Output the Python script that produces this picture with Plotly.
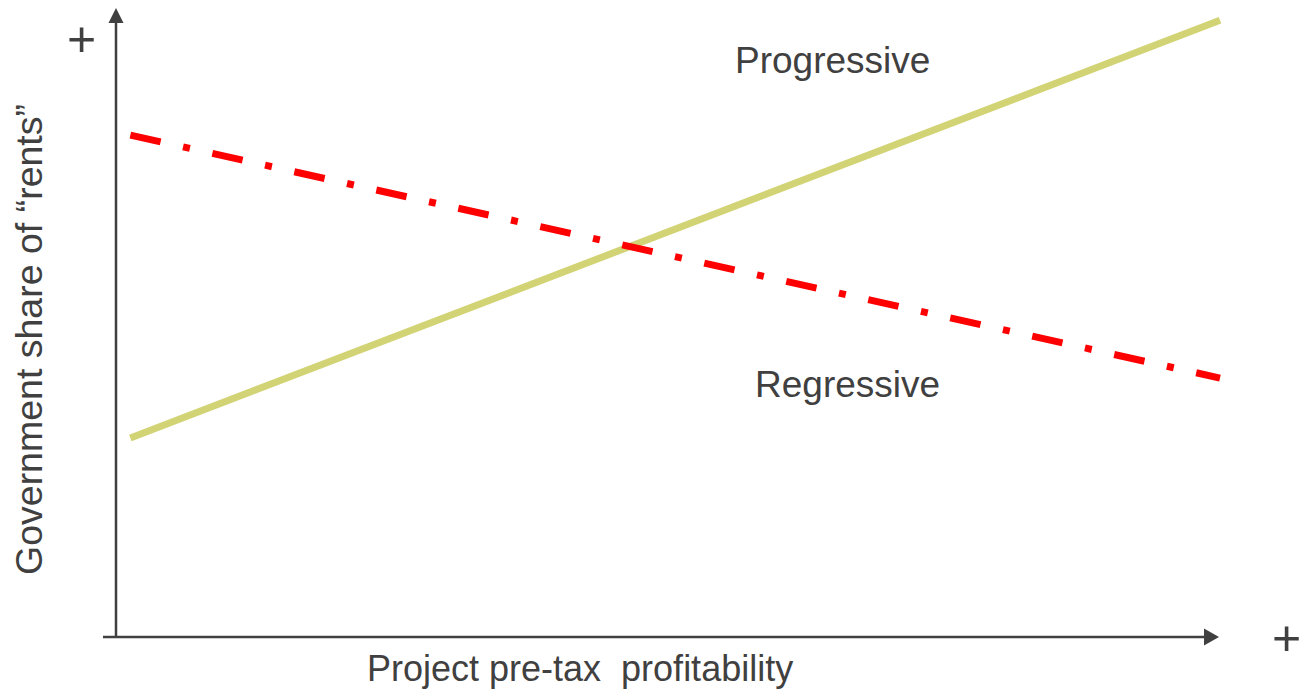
import plotly.graph_objects as go

# ---- data (abstract units 0..100) ----
profitability = [1.3, 100.0]
progressive_share = [32.2, 99.8]
regressive_share = [81.2, 41.9]

label_progressive = "Progressive"
label_regressive = "Regressive"
x_title = "Project pre-tax\u00a0 profitability"
y_title = "Government share of \u201crents\u201d"

W, H = 1301, 690
X0_PX, X100_PX = 116, 1220
Y0_PX, Y100_PX = 637, 19
sx = (X100_PX - X0_PX) / 100.0
sy = (Y0_PX - Y100_PX) / 100.0

def dx(px):
    return (px - X0_PX) / sx

def dy(py):
    return (Y0_PX - py) / sy

AX = "#404040"
FONT = "Liberation Sans, Arial, sans-serif"

fig = go.Figure()
fig.add_trace(go.Scatter(x=profitability, y=progressive_share, mode="lines",
                         line=dict(color="#d2d374", width=7), name=label_progressive,
                         hoverinfo="skip"))
fig.add_trace(go.Scatter(x=profitability, y=regressive_share, mode="lines",
                         line=dict(color="#ff0000", width=7, dash="31px,23px,7px,23px"),
                         name=label_regressive, hoverinfo="skip"))

shapes = [
    # vertical axis
    dict(type="line", xref="x", yref="y", x0=0, x1=0, y0=0, y1=dy(22),
         line=dict(color=AX, width=2.5)),
    dict(type="path", xref="x", yref="y",
         path=f"M {dx(108.5)},{dy(23)} L {dx(123.5)},{dy(23)} L {dx(116)},{dy(8)} Z",
         fillcolor=AX, line=dict(color=AX, width=0)),
    # horizontal axis
    dict(type="line", xref="x", yref="y", x0=dx(103), x1=dx(1206), y0=0, y1=0,
         line=dict(color=AX, width=2.5)),
    dict(type="path", xref="x", yref="y",
         path=f"M {dx(1204)},{dy(628.5)} L {dx(1204)},{dy(645.5)} L {dx(1219)},{dy(637)} Z",
         fillcolor=AX, line=dict(color=AX, width=0)),
]

annotations = [
    dict(x=dx(832), y=dy(60), xref="x", yref="y", text=label_progressive, showarrow=False,
         font=dict(family=FONT, size=37, color=AX), xanchor="center", yanchor="middle"),
    dict(x=dx(847), y=dy(384), xref="x", yref="y", text=label_regressive, showarrow=False,
         font=dict(family=FONT, size=37, color=AX), xanchor="center", yanchor="middle"),
    dict(x=580 / W, y=1 - 668 / H, xref="paper", yref="paper", text=x_title, showarrow=False,
         font=dict(family=FONT, size=36, color=AX), xanchor="center", yanchor="middle"),
    dict(x=29 / W, y=1 - 340 / H, xref="paper", yref="paper", text=y_title, showarrow=False,
         textangle=-90, font=dict(family=FONT, size=37.5, color=AX),
         xanchor="center", yanchor="middle"),
    dict(x=81.5 / W, y=1 - 39 / H, xref="paper", yref="paper", text="+", showarrow=False,
         font=dict(family=FONT, size=50, color=AX), xanchor="center", yanchor="middle"),
    dict(x=1286 / W, y=1 - 638 / H, xref="paper", yref="paper", text="+", showarrow=False,
         font=dict(family=FONT, size=50, color=AX), xanchor="center", yanchor="middle"),
]

fig.update_layout(
    width=W, height=H, margin=dict(l=0, r=0, t=0, b=0),
    paper_bgcolor="white", plot_bgcolor="white", showlegend=False,
    xaxis=dict(visible=False, range=[dx(0), dx(W)], fixedrange=True),
    yaxis=dict(visible=False, range=[dy(H), dy(0)], fixedrange=True),
    shapes=shapes, annotations=annotations,
)

fig.write_html("out.html", config={"displayModeBar": False})
